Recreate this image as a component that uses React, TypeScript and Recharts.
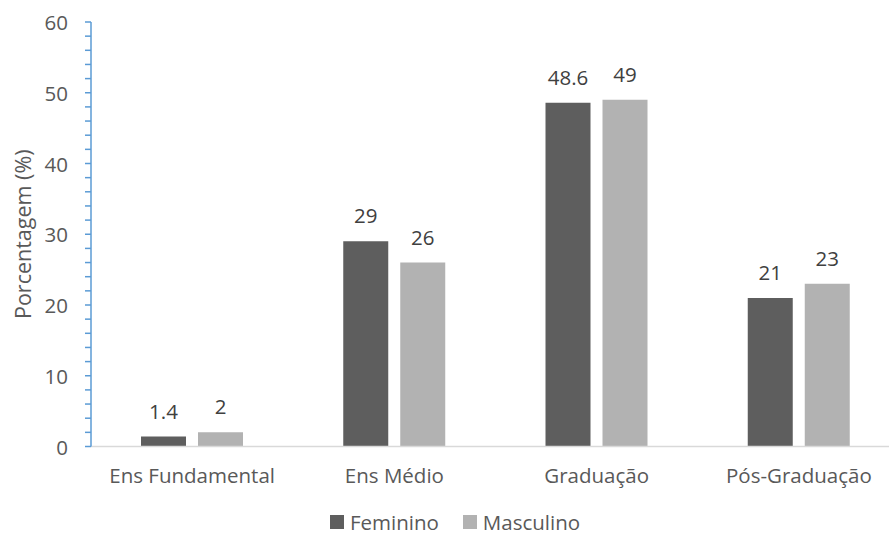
import React from 'react';
import { BarChart, Bar, XAxis, YAxis, Legend, LabelList } from 'recharts';

const categories = ['Ens Fundamental', 'Ens Médio', 'Graduação', 'Pós-Graduação'];
const feminino = [1.4, 29, 48.6, 21];
const masculino = [2, 26, 49, 23];
const yTicks = [0, 2, 4, 6, 8, 10, 12, 14, 16, 18, 20, 22, 24, 26, 28, 30, 32, 34, 36, 38, 40, 42, 44, 46, 48, 50, 52, 54, 56, 58, 60];

const data = categories.map((cat, i) => ({
  cat,
  Feminino: feminino[i],
  Masculino: masculino[i],
}));

const FONT = '"Open Sans", "DejaVu Sans", sans-serif';
const TEXT = '#595959';
const FS = 20.5;

// Only every 10th unit carries a label; the rest are minor tick marks.
const YTick = (props: any) => {
  const { x, y, payload } = props;
  if (payload.value % 10 !== 0) return <g />;
  return (
    <text x={x} y={y} textAnchor="end" dominantBaseline="central" fill={TEXT} fontSize={FS} fontFamily={FONT}>
      {payload.value}
    </text>
  );
};

const YTitle = (props: any) => {
  const vb = props.viewBox || {};
  const cx = (vb.x ?? 0) + 22;
  const cy = (vb.y ?? 0) + (vb.height ?? 0) / 2;
  return (
    <text
      x={cx}
      y={cy}
      transform={`rotate(-90, ${cx}, ${cy})`}
      textAnchor="middle"
      dominantBaseline="central"
      fill={TEXT}
      fontSize={21.5}
      fontFamily={FONT}
    >
      Porcentagem (%)
    </text>
  );
};

const LegendContent = (props: any) => {
  const items = props.payload || [];
  return (
    <div style={{ display: 'flex', justifyContent: 'center', gap: 24, fontFamily: FONT, fontSize: FS, color: TEXT, lineHeight: '26px' }}>
      {items.map((it: any) => (
        <div key={it.value} style={{ display: 'flex', alignItems: 'center' }}>
          <span style={{ display: 'inline-block', width: 14, height: 14, background: it.color, marginRight: 6 }} />
          <span>{it.value}</span>
        </div>
      ))}
    </div>
  );
};

export default function App() {
  return (
    <div style={{ position: 'fixed', left: 0, top: 0, width: 889, height: 539, overflow: 'hidden', background: '#fff' }}>
      <BarChart
        width={910}
        height={539}
        data={data}
        margin={{ top: 22, right: 10, left: 0, bottom: 62.5 }}
        barSize={45}
        barGap={12}
      >
        <XAxis
          dataKey="cat"
          height={30}
          axisLine={{ stroke: '#D9D9D9', strokeWidth: 1.5 }}
          tickLine={false}
          tickSize={0}
          tickMargin={22}
          interval={0}
          tick={{ fill: TEXT, fontSize: FS, fontFamily: FONT }}
        />
        <YAxis
          width={91}
          domain={[0, 60]}
          ticks={yTicks}
          interval={0}
          allowDataOverflow
          axisLine={{ stroke: '#5B9BD5', strokeWidth: 1.5 }}
          tickLine={{ stroke: '#5B9BD5', strokeWidth: 1.5 }}
          tickSize={6}
          tickMargin={17}
          tick={<YTick />}
          label={<YTitle />}
        />
        <Legend
          verticalAlign="middle"
          align="center"
          layout="horizontal"
          content={<LegendContent />}
          wrapperStyle={{ position: 'absolute', top: 509, left: 0, width: 910, height: 26 }}
        />
        <Bar dataKey="Feminino" fill="#5E5E5E" isAnimationActive={false}>
          <LabelList dataKey="Feminino" position="top" offset={18} fill="#404040" fontSize={FS} fontFamily={FONT} />
        </Bar>
        <Bar dataKey="Masculino" fill="#B2B2B2" isAnimationActive={false}>
          <LabelList dataKey="Masculino" position="top" offset={18} fill="#404040" fontSize={FS} fontFamily={FONT} />
        </Bar>
      </BarChart>
    </div>
  );
}
